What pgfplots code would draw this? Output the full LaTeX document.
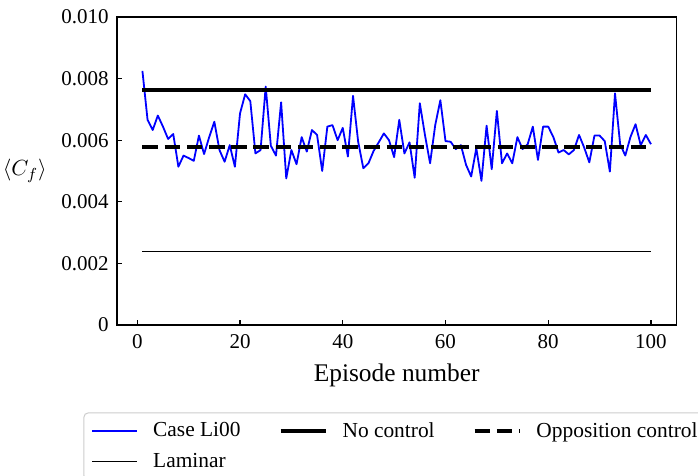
\documentclass[border=0pt]{standalone}
\usepackage{fontspec}
\setmainfont{Liberation Serif}
\usepackage{pgfplots}
\usepackage{pgfplotstable}
\pgfplotsset{compat=1.18}

% Mean skin-friction coefficient per training episode
\pgfplotstableread{
ep cf
1 0.00825
2 0.00666
3 0.00633
4 0.00680
5 0.00644
6 0.00604
7 0.00620
8 0.00514
9 0.00550
10 0.00542
11 0.00533
12 0.00615
13 0.00555
14 0.00610
15 0.00660
16 0.00568
17 0.00530
18 0.00584
19 0.00514
20 0.00687
21 0.00749
22 0.00727
23 0.00557
24 0.00568
25 0.00774
26 0.00582
27 0.00550
28 0.00723
29 0.00476
30 0.00568
31 0.00522
32 0.00610
33 0.00563
34 0.00633
35 0.00617
36 0.00500
37 0.00644
38 0.00649
39 0.00600
40 0.00640
41 0.00547
42 0.00744
43 0.00595
44 0.00509
45 0.00525
46 0.00565
47 0.00593
48 0.00622
49 0.00600
50 0.00545
51 0.00666
52 0.00557
53 0.00593
54 0.00478
55 0.00720
56 0.00617
57 0.00525
58 0.00649
59 0.00730
60 0.00597
61 0.00595
62 0.00571
63 0.00584
64 0.00520
65 0.00482
66 0.00574
67 0.00468
68 0.00647
69 0.00506
70 0.00695
71 0.00525
72 0.00557
73 0.00525
74 0.00610
75 0.00571
76 0.00587
77 0.00644
78 0.00536
79 0.00644
80 0.00644
81 0.00610
82 0.00560
83 0.00568
84 0.00554
85 0.00568
86 0.00617
87 0.00576
88 0.00528
89 0.00615
90 0.00615
91 0.00597
92 0.00498
93 0.00752
94 0.00587
95 0.00550
96 0.00610
97 0.00652
98 0.00584
99 0.00617
100 0.00587
}\caseLi

\begin{document}
\begin{tikzpicture}
\begin{axis}[
  at={(58.5pt,75.5pt)}, anchor=south west,
  width=279.7pt, height=154pt, scale only axis,
  xmin=-3.95, xmax=104.95, ymin=0, ymax=0.010,
  xtick={0,20,40,60,80,100},
  xticklabels={0,20,40,60,80,100},
  ytick={0,0.002,0.004,0.006,0.008,0.010},
  yticklabels={0,0.002,0.004,0.006,0.008,0.010},
  scaled y ticks=false,
  tick pos=left,
  tick align=inside,
  major tick length=2.5pt,
  axis line style={line width=0.6pt},
  every tick/.style={black, line width=0.6pt},
  tick label style={font=\fontsize{10.5}{12.5}\selectfont},
  yticklabel style={inner xsep=0pt, xshift=-4pt},
  xticklabel style={inner ysep=0pt, yshift=-4.5pt},
  xlabel={Episode number},
  every axis x label/.style={at={(rel axis cs:0.5,0)}, anchor=north, inner sep=0pt, yshift=-19pt, font=\fontsize{12.7}{15}\selectfont},
  ylabel={$\langle C_f\rangle$},
  every axis y label/.style={at={(rel axis cs:0,0.5)}, anchor=east, inner sep=0pt, xshift=-35pt, font=\fontsize{11.3}{13.5}\selectfont},
  legend columns=3,
  legend cell align=left,
  legend image code/.code={\draw[#1] (0pt,0pt) -- (22.5pt,0pt);},
  legend style={
    name=cflegend,
    at={(-0.059,-0.2857)}, anchor=north west,
    draw=none, fill=white,
    font=\fontsize{10.7}{12.5}\selectfont,
    inner xsep=3.5pt, inner ysep=3pt,
    row sep=3.5pt,
    nodes={inner xsep=7.5pt, inner ysep=1.5pt},
    /tikz/every even column/.append style={column sep=11.5pt},
  },
]
\addlegendimage{legend image code/.code={\draw[draw=blue, line width=0.9pt] (0pt,0pt) -- (22.5pt,0pt);}}
\addlegendentry{Case Li00}
\addplot[color=blue, line width=0.9pt, line join=round, forget plot] table[x=ep, y=cf] {\caseLi};
\addplot[draw=black, line width=2pt] coordinates {(1,0.00763) (100,0.00763)};
\addlegendentry{No control}
\addplot[draw=black, line width=1.9pt, dash pattern=on 7.8pt off 3.3pt] coordinates {(1,0.00578) (100,0.00578)};
\addlegendentry{Opposition control}
\addplot[draw=black, line width=0.55pt] coordinates {(1,0.0024) (100,0.0024)};
\addlegendentry{Laminar}
\end{axis}
% light rounded frame round the legend
\draw[black!20, line width=0.5pt, rounded corners=2pt]
  (cflegend.south west) rectangle (cflegend.north east);
\pgfresetboundingbox
\path (0,0) rectangle (349pt,238pt);
\end{tikzpicture}
\end{document}
